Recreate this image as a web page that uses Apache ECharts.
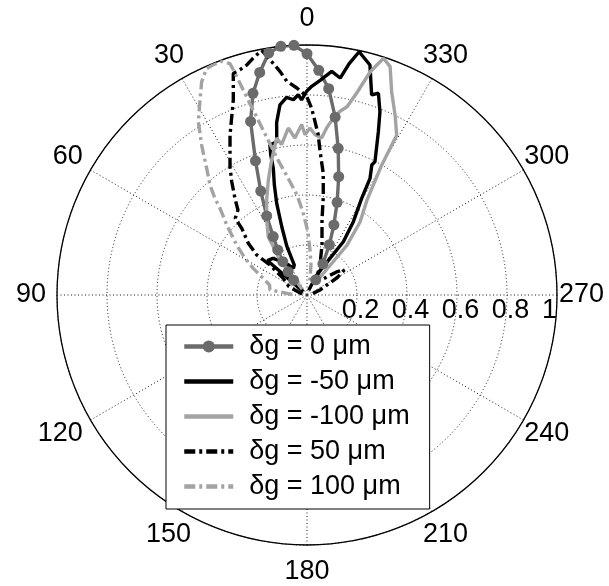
<!DOCTYPE html>
<html>
<head>
<meta charset="utf-8">
<script src="https://cdn.jsdelivr.net/npm/echarts@6/dist/echarts.min.js"></script>
<style>html,body{margin:0;padding:0;background:#fff}#c{width:609px;height:586px}</style>
</head>
<body>
<div id="c"></div>
<script>
// ---- tick labels ----
const angleTicks = [0, 30, 60, 90, 120, 150, 180, 210, 240, 270, 300, 330];
const radiusTicks = [0.2, 0.4, 0.6, 0.8, 1];
const seriesNames = ['δg = 0 μm', 'δg = -50 μm', 'δg = -100 μm', 'δg = 50 μm', 'δg = 100 μm'];

// ---- series values: angle (deg, 0 at top, counter-clockwise) and normalised radius ----
const angles0 = [330, 333, 336, 339, 342, 345, 348, 351, 354, 357, 0, 3, 6, 9, 12, 15, 18, 21, 24, 27, 30, 33, 36, 39, 42];
const radii0  = [0.07, 0.14, 0.22, 0.30, 0.39, 0.49, 0.60, 0.72, 0.83, 0.90, 0.965, 1.0, 1.0, 0.98, 0.91, 0.835, 0.73, 0.575, 0.455, 0.355, 0.27, 0.215, 0.165, 0.12, 0.08];

const anglesM50 = [48, 49, 43, 35, 27, 23, 22.5, 20.3, 18.3, 16.5, 14.9, 14.5, 13.9, 11.2, 10.6, 10.0, 8.1, 5.9, 4.0, 2.5, 1.6, 0.1, 358.7, 356.5, 353.7, 351.3, 349.7, 347.9, 344.7, 342.1, 340.5, 338.3, 336.4, 333, 333.5, 331.6, 330.5, 327.7, 325.7, 327.9, 334.1, 340];
const radiiM50  = [0.02, 0.21, 0.20, 0.16, 0.12, 0.13, 0.21, 0.29, 0.386, 0.46, 0.524, 0.58, 0.618, 0.625, 0.658, 0.70, 0.768, 0.795, 0.783, 0.802, 0.781, 0.815, 0.835, 0.86, 0.90, 0.878, 0.94, 0.995, 0.954, 0.841, 0.856, 0.789, 0.713, 0.599, 0.581, 0.53, 0.444, 0.347, 0.258, 0.173, 0.089, 0.02];

const anglesM100 = [40, 37.6, 37.6, 33.6, 28.3, 23, 18.6, 14.7, 10.9, 9.6, 6.4, 4.4, 1.8, 0.7, 359, 357.1, 354.7, 353.3, 351.5, 349.8, 348, 346.2, 344.2, 342.1, 340, 337.4, 333.9, 330.7, 330.1, 327.7, 324, 321.3, 321.8, 326];
const radiiM100  = [0.03, 0.111, 0.177, 0.28, 0.34, 0.413, 0.485, 0.558, 0.64, 0.61, 0.672, 0.63, 0.682, 0.641, 0.668, 0.642, 0.631, 0.673, 0.716, 0.747, 0.77, 0.831, 0.927, 0.995, 0.972, 0.881, 0.801, 0.733, 0.60, 0.449, 0.361, 0.256, 0.168, 0.06];

const anglesP50 = [80, 65, 55, 51, 51.5, 48.6, 44.4, 43.1, 39.1, 36.7, 33.6, 31, 25.7, 20.7, 18.4, 16.6, 14.7, 12.8, 10.5, 9.2, 6.9, 5.4, 2.8, 0.1, 358.6, 357.4, 356, 354.8, 352.4, 350.6, 348.7, 343.3, 336.6, 330.3, 315, 308, 304, 300, 292, 280];
const radiiP50  = [0.02, 0.08, 0.116, 0.19, 0.257, 0.313, 0.373, 0.42, 0.438, 0.482, 0.544, 0.598, 0.71, 0.834, 0.934, 0.94, 0.951, 0.972, 0.995, 0.96, 0.901, 0.859, 0.829, 0.795, 0.748, 0.696, 0.643, 0.577, 0.491, 0.399, 0.306, 0.209, 0.131, 0.078, 0.09, 0.15, 0.18, 0.14, 0.06, 0.02];

const anglesP100 = [88, 82, 75, 63.6, 59.4, 54.6, 48.9, 45.1, 43.6, 41.4, 38.4, 35.1, 32.1, 29, 26.3, 24, 22, 20, 18.4, 17.9, 16.9, 15.6, 14.1, 12.1, 9.2, 5.7, 2.8, 359.1, 356.2, 352.4, 348];
const radiiP100  = [0.06, 0.15, 0.155, 0.24, 0.288, 0.345, 0.426, 0.491, 0.534, 0.587, 0.646, 0.733, 0.818, 0.884, 0.951, 0.99, 0.995, 0.995, 0.975, 0.925, 0.824, 0.727, 0.639, 0.552, 0.474, 0.402, 0.332, 0.252, 0.18, 0.121, 0.05];

const FONT = '"Liberation Sans", Arial, Helvetica, sans-serif';
const zip = (a, r) => a.map((v, i) => [r[i], v]);
const DASHDOT = [11, 4, 3, 4];
const GRID = {color: '#1a1a1a', width: 1, type: [1, 2.5]};
const LW = 3.4;

// per-label nudges so MATLAB-style centred labels are reproduced
const angRich = {
  a0: [0, 0, 33, 0], a30: [0, 8, 27, 0], a60: [0, 25, 10, 0], a90: [0, 31, 0, 0],
  a120: [10, 25, 0, 0], a150: [27, 1, 0, 0], a180: [33, 0, 0, 0], a210: [27, 0, 0, 1],
  a240: [10, 0, 0, 18], a270: [0, 0, 0, 22], a300: [0, 0, 10, 18], a330: [0, 0, 27, 1]
};
const rich = {};
Object.keys(angRich).forEach(k => { rich[k] = {padding: angRich[k], fontSize: 27, fontFamily: FONT, color: '#000'}; });

const chart = echarts.init(document.getElementById('c'), null, {renderer: 'canvas'});
const option = {
  animation: false,
  backgroundColor: '#fff',
  textStyle: {fontFamily: FONT},
  polar: [
    {center: [307, 295], radius: 250},
    {center: [307, 295], radius: 250}
  ],
  angleAxis: [
    {
      polarIndex: 0, type: 'value', min: 0, max: 360, interval: 30,
      startAngle: 90, clockwise: false,
      axisLine: {show: true, lineStyle: {color: '#000', width: 1.3}},
      axisTick: {show: false},
      splitLine: {show: true, lineStyle: GRID},
      axisLabel: {
        show: true, margin: -20, fontSize: 27, color: '#000', fontFamily: FONT,
        formatter: v => (angleTicks.indexOf(v) >= 0 ? '{a' + v + '|' + v + '}' : ''),
        rich: rich
      }
    },
    {
      polarIndex: 1, type: 'value', min: 0, max: 360, startAngle: 0, clockwise: false, show: false
    }
  ],
  radiusAxis: [
    {
      polarIndex: 0, type: 'value', min: 0, max: 1, interval: 0.2,
      axisLine: {show: false}, axisTick: {show: false}, axisLabel: {show: false},
      splitLine: {show: true, lineStyle: GRID}
    },
    {
      polarIndex: 1, type: 'value', min: 0, max: 1, interval: 0.2,
      axisLine: {show: false}, axisTick: {show: false}, splitLine: {show: false},
      axisLabel: {
        show: true, margin: -29, fontSize: 27, color: '#000', fontFamily: FONT,
        formatter: v => (v === 0 ? '' : (v === 1 ? '{one|1}' : '{r|' + v + '}')),
        rich: {
          r: {padding: [0, 0, 0, 7], fontSize: 27, fontFamily: FONT, color: '#000'},
          one: {padding: [0, 15, 0, 0], fontSize: 27, fontFamily: FONT, color: '#000'}
        }
      }
    }
  ],
  legend: {
    orient: 'vertical', left: 166, top: 325,
    data: seriesNames.map((n, i) => (i === 0 ? {name: n} : {name: n, itemStyle: {opacity: 0}})),
    itemWidth: 49, itemHeight: 15, itemGap: 8,
    padding: [8, 20, 9, 16],
    backgroundColor: '#fff', borderColor: '#000', borderWidth: 1, borderRadius: 0,
    lineStyle: {width: 4.5},
    textStyle: {fontSize: 27, color: '#000', fontFamily: FONT, padding: [0, 0, 0, 11]},
    selectedMode: false
  },
  series: [
    {name: seriesNames[0], type: 'line', coordinateSystem: 'polar', polarIndex: 0,
     data: zip(angles0, radii0), symbol: 'circle', symbolSize: 11, showSymbol: true,
     itemStyle: {color: '#6b6b6b'}, lineStyle: {color: '#6b6b6b', width: LW}},
    {name: seriesNames[1], type: 'line', coordinateSystem: 'polar', polarIndex: 0,
     data: zip(anglesM50, radiiM50), symbol: 'none',
     itemStyle: {color: '#000'}, lineStyle: {color: '#000', width: LW}},
    {name: seriesNames[2], type: 'line', coordinateSystem: 'polar', polarIndex: 0,
     data: zip(anglesM100, radiiM100), symbol: 'none',
     itemStyle: {color: '#a3a3a3'}, lineStyle: {color: '#a3a3a3', width: LW}},
    {name: seriesNames[3], type: 'line', coordinateSystem: 'polar', polarIndex: 0,
     data: zip(anglesP50, radiiP50), symbol: 'none',
     itemStyle: {color: '#000'}, lineStyle: {color: '#000', width: LW, type: DASHDOT}},
    {name: seriesNames[4], type: 'line', coordinateSystem: 'polar', polarIndex: 0,
     data: zip(anglesP100, radiiP100), symbol: 'none',
     itemStyle: {color: '#a3a3a3'}, lineStyle: {color: '#a3a3a3', width: LW, type: DASHDOT}}
  ]
};
chart.setOption(option);
</script>
</body>
</html>
